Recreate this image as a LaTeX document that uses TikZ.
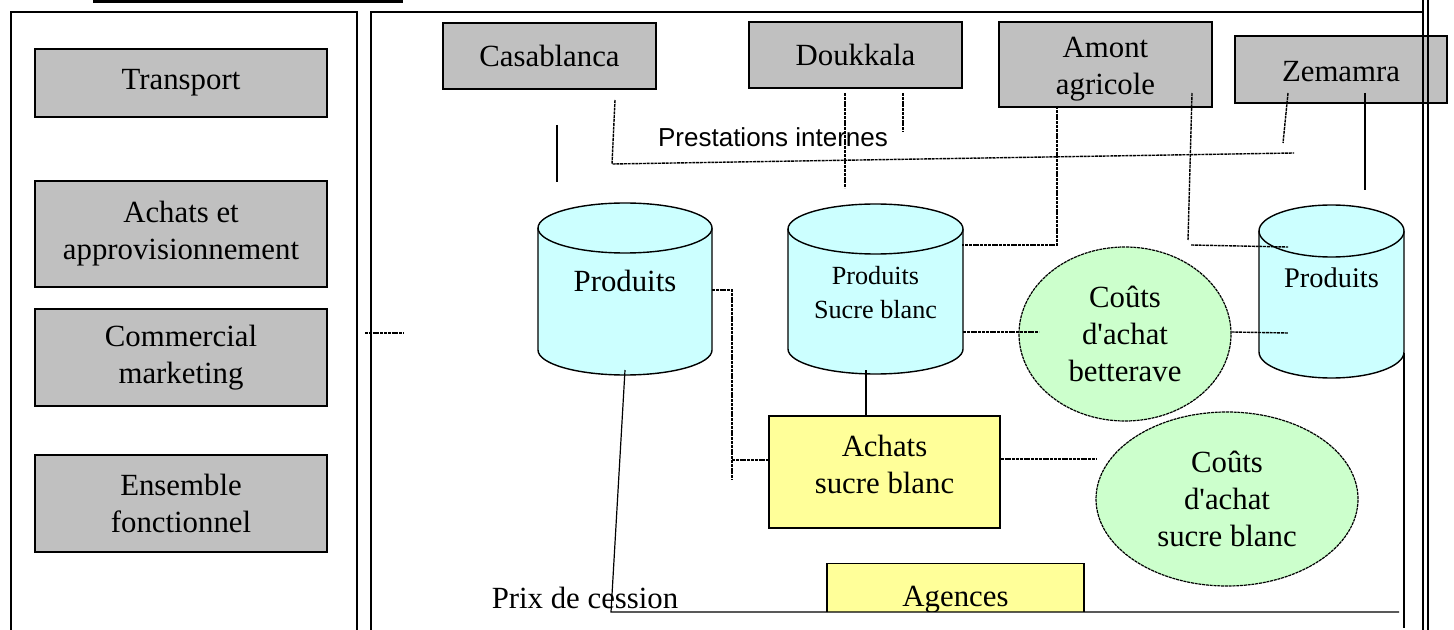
\documentclass[tikz,border=0pt]{standalone}
\usepackage{fontspec}
\setmainfont{Liberation Serif}[Ligatures=TeXOff]
\newfontfamily\labelsans{Liberation Sans}
\usetikzlibrary{shapes.geometric}

\definecolor{boxgray}{HTML}{C0C0C0}
\definecolor{cylcyan}{HTML}{CCFFFF}
\definecolor{boxyellow}{HTML}{FFFF99}
\definecolor{ovalgreen}{HTML}{CCFFCC}

\tikzset{
  base/.style={font=\fontsize{15.4}{18.5}\selectfont, align=center, inner sep=0pt},
  graybox/.style={base, draw, fill=boxgray, line width=0.7pt},
  yellowbox/.style={base, draw, fill=boxyellow, line width=0.7pt},
  oval/.style={base, ellipse, draw, fill=ovalgreen, line width=0.6pt,
    dash pattern=on 1.5pt off 0.4pt},
  txt/.style={base},
  frame/.style={line width=0.8pt},
  link/.style={line width=0.6pt},
  dlink/.style={line width=0.7pt, dash pattern=on 1.5pt off 0.4pt},
  cylbody/.style={fill=cylcyan, draw, line width=0.7pt},
}

% cylinder: #1 centre x, #2 top-ellipse y, #3 bottom-ellipse y, #4 x radius, #5 y radius
\newcommand\drawcyl[5]{%
  \fill[cylcyan] ([xshift=-#4]#1,#2) -- ([xshift=-#4]#1,#3)
     arc[start angle=180, end angle=360, x radius=#4, y radius=#5]
     -- ([xshift=#4]#1,#2) -- cycle;
  \draw[line width=0.7pt] ([xshift=-#4]#1,#2) -- ([xshift=-#4]#1,#3)
     arc[start angle=180, end angle=360, x radius=#4, y radius=#5]
     -- ([xshift=#4]#1,#2);
  \filldraw[cylbody] (#1,#2) ellipse[x radius=#4, y radius=#5];
}

\begin{document}
\begin{tikzpicture}[x=0.5pt, y=-0.5pt]
\useasboundingbox (0,0) rectangle (1454,630);
\clip (0,0) rectangle (1454,630);

% frames
\draw[line width=1.3pt] (93,1.5) -- (403,1.5);
\draw[frame] (11,640) -- (11,12) -- (357,12) -- (357,640);
\draw[frame] (371,640) -- (371,12) -- (1423,12);

% left column
\node[graybox, minimum width=146pt, minimum height=34pt]   (transport) at (181,83)    {Transport};
\node[graybox, minimum width=146pt, minimum height=53pt]   (achats)    at (181,234)   {Achats et\\approvisionnement};
\node[graybox, minimum width=146pt, minimum height=48.5pt] (commerce)  at (181,357.5) {Commercial\\marketing};
\node[graybox, minimum width=146pt, minimum height=48.5pt] (ensemble)  at (181,503.5) {Ensemble\\fonctionnel};

\coordinate (lk1) at (365,333);
\coordinate (lk2) at (404,333);
\draw[dlink] (lk1) -- (lk2);

% sites
\node[graybox, minimum width=106.5pt, minimum height=33pt]   (casa)  at (549.5,56)   {Casablanca};
\node[graybox, minimum width=106.5pt, minimum height=33pt]   (douk)  at (855.5,55)   {Doukkala};
\node[graybox, minimum width=106.5pt, minimum height=42.5pt] (amont) at (1105.5,64.5) {};
\node[txt] (amontlbl) at (1105.5,69) {Amont\\agricole};
\node[graybox, minimum width=106pt, minimum height=33.5pt]   (zem)   at (1341,69.5)  {};
\node[txt] (zemlbl) at (1341,72) {Zemamra};

% right double border
\draw[line width=1pt] (1423,0) -- (1423,630);
\draw[line width=1pt] (1428,0) -- (1428,630);

% cylinders
\drawcyl{625}{228}{350}{43.5pt}{12.5pt}
\drawcyl{875.5}{229}{349}{43.75pt}{12.5pt}
\drawcyl{1331.5}{231}{352}{36.25pt}{13pt}
\node[txt] (prod1) at (625,281) {Produits};
\node[txt, font=\fontsize{13.1}{17}\selectfont] (prod2) at (875.5,293) {Produits\\Sucre blanc};
\node[txt, font=\fontsize{14.2}{17}\selectfont] (prod3) at (1331.5,278) {Produits};

% purchases and costs
\node[yellowbox, minimum width=115.5pt, minimum height=56pt] (asb) at (884.5,472) {};
\node[txt] (asblbl) at (884.5,464) {Achats\\sucre blanc};
\node[oval, minimum width=106pt, minimum height=87pt]  (cab) at (1125,334) {Coûts\\d'achat\\betterave};
\node[oval, minimum width=131pt, minimum height=87pt]  (casb) at (1227,499) {Coûts\\d'achat\\sucre blanc};

\begin{scope}
  \clip (820,555) rectangle (1090,611);
  \node[yellowbox, minimum width=128.5pt, minimum height=30pt, anchor=north] (agences) at (955.5,563) {};
  \node[txt, anchor=base] (aglbl) at (955.5,606) {Agences};
\end{scope}

% labels
\node[txt, font=\labelsans\fontsize{13}{15}\selectfont] (prest) at (773,137) {Prestations internes};
\node[txt, anchor=base] (prix) at (585,608) {Prix de cession};

% connector end points
\coordinate (t1a) at (557,125);  \coordinate (t1b) at (557,182);
\coordinate (t2a) at (615,100);  \coordinate (t2b) at (612,164);  \coordinate (t2c) at (1294,153);
\coordinate (t3a) at (845,93);   \coordinate (t3b) at (845,188);
\coordinate (t4a) at (903,93);   \coordinate (t4b) at (903,132);
\coordinate (t5a) at (1057,106); \coordinate (t5b) at (1057,245); \coordinate (t5c) at (962,245);
\coordinate (t6a) at (1192,93);  \coordinate (t6b) at (1188,240);
\coordinate (t6c) at (1191,245); \coordinate (t6d) at (1288,247);
\coordinate (t7a) at (1288,93);  \coordinate (t7b) at (1283,143);
\coordinate (t8a) at (1365,93);  \coordinate (t8b) at (1365,190);

\coordinate (m1a) at (712,290);  \coordinate (m1b) at (732,290);  \coordinate (m1c) at (732,480);
\coordinate (m2a) at (732,460);
\coordinate (m3a) at (625,370);  \coordinate (m3b) at (611,612);  \coordinate (m3c) at (1399,612);
\coordinate (m4a) at (866,370);
\coordinate (m5a) at (963,332);  \coordinate (m5b) at (1039,332);
\coordinate (m6b) at (1288,333);
\coordinate (m7b) at (1097,459);
\coordinate (m8a) at (1404,353); \coordinate (m8b) at (1404,628);

% top links
\draw[link]  (t1a) -- (t1b);
\draw[dlink] (t2a) -- (t2b) -- (t2c);
\draw[dlink] (t3a) -- (t3b);
\draw[dlink] (t4a) -- (t4b);
\draw[dlink] (t5a) -- (t5b) -- (t5c);
\draw[dlink] (t6a) -- (t6b);
\draw[dlink] (t6c) -- (t6d);
\draw[dlink] (t7a) -- (t7b);
\draw[link]  (t8a) -- (t8b);

% middle links
\draw[dlink] (m1a) -- (m1b) -- (m1c);
\draw[dlink] (m2a) -- (asb.west |- m2a);
\draw[link]  (m3a) -- (m3b) -- (m3c);
\draw[link]  (m4a) -- (asb.north -| m4a);
\draw[dlink] (m5a) -- (m5b);
\draw[dlink] (cab.east |- m5a) -- (m6b);
\draw[dlink] (asb.east |- m7b) -- (m7b);
\draw[link]  (m8a) -- (m8b);
\end{tikzpicture}
\end{document}
